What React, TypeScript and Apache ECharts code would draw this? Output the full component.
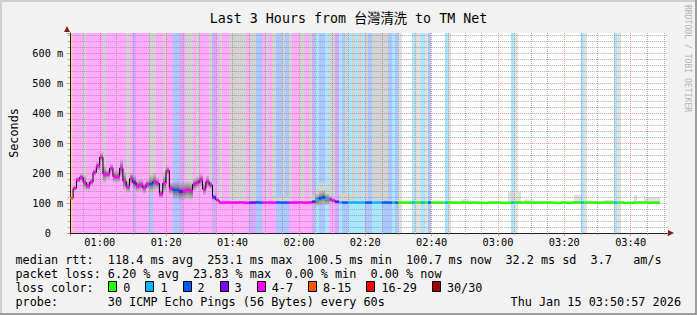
import React, { useEffect, useRef } from 'react';
import * as echarts from 'echarts';

const TITLE = 'Last 3 Hours from 台灣清洗 to TM Net';
const Y_NAME = 'Seconds';
const START_MIN = 50.95; // 00:50:57 as minutes of the day
const SPAN_MIN = 180;
const Y_MAX = 666.67;

// median rtt per minute (ms)
const median: (number | null)[] = [
  116, 149, 177, 186, 168, 157, 170, 202, 223, 253,
  196, 196, 216, 188, 188, 216, 173, 154, 181, 168,
  157, 160, 151, 162, 163, 171, 166, 130, 166, 208,
  149, 143, 143, 138, 140, 143, 140, 162, 168, 177,
  146, 171, 160, 119, 110, 101.5, 101.5, 102, 101.5, 101.5,
  101.5, 102, 101.5, 100.5, 101.5, 101.5, 102, 101.5, 101.5, 101.5,
  101.5, 101.5, 102, 101.5, 101.5, 101.5, 101.5, 101.5, 101.5, 102,
  101.5, 101.5, 102, 104, 110, 116, 119, 113, 112, 108,
  104, 102, 101.5, 101.5, 101.5, 102, 101.5, 101.5, 101.5, 101.5,
  101.5, 101.5, 101.5, 101.5, 101.5, 102, 101.5, 101.5, 101.5, 101.5,
  101.5, 101.5, 101.5, 101.5, 101.5, 101.5, 101.5, 101.5, 101.5, 101.5,
  101.5, 101.5, 101.5, 101.5, 101.5, 101.5, 101.5, 101.5, 101.5, 101.5,
  100.5, 101.5, 101.5, 100.5, 100.5, 100.5, 101.5, 101.5, 101.5, 101.5,
  100.5, 100.5, 100.5, 101.5, 101.5, 101.5, 101.5, 101.5, 101.5, 100.5,
  101.5, 101.5, 101.5, 101.5, 101.5, 101.5, 100.5, 100.5, 101.5, 101.5,
  100.5, 101.5, 101.5, 101.5, 101.5, 101.5, 101.5, 101.5, 101.5, 100.5,
  101.5, 101.5, 101.5, 101.5, 101.5, 101.5, 101.5, 100.5, 100.5, 100.5,
  101.5, 101.5, 101.5, 101.5, 100.5, 101.5, 101.5, 100.7, null, null,
];

// lost pings (of 30) per minute
const lost: (number | null)[] = [
  8, 5, 6, 5, 5, 4, 5, 6, 5, 4,
  5, 5, 4, 6, 5, 5, 4, 5, 4, 3,
  5, 6, 5, 4, 2, 5, 4, 5, 6, 5,
  4, 2, 2, 3, 5, 4, 5, 4, 5, 6,
  5, 4, 5, 3, 4, 4, 4, 5, 4, 4,
  5, 4, 5, 4, 3, 3, 2, 2, 4, 4,
  5, 4, 2, 2, 2, 2, 4, 5, 4, 4,
  5, 4, 4, 3, 1, 2, 2, 1, 4, 4,
  3, 1, 2, 2, 1, 1, 1, 1, 1, 2,
  2, 1, 1, 1, 2, 2, 2, 1, 2, 0,
  0, 0, 0, 1, 0, 0, 1, 0, 2, 0,
  0, 0, 0, 1, 0, 0, 0, 0, 0, 0,
  0, 0, 0, 0, 0, 0, 0, 0, 0, 0,
  0, 0, 0, 1, 0, 0, 0, 0, 0, 0,
  0, 0, 0, 0, 0, 0, 0, 0, 0, 0,
  0, 0, 0, 0, 1, 0, 0, 0, 0, 0,
  0, 0, 0, 0, 1, 0, 0, 0, 0, 0,
  0, 0, 0, 0, 0, 0, 0, 0, null, null,
];

// half height of the dense smoke around the median (ms)
const spread: number[] = [
  5, 8, 10, 12, 25, 15, 12, 12, 15, 15,
  30, 15, 15, 20, 20, 30, 30, 20, 20, 25,
  20, 20, 20, 15, 30, 30, 20, 15, 30, 15,
  20, 30, 30, 30, 30, 30, 30, 20, 20, 20,
  20, 20, 15, 10, 6, 3, 3, 3, 3, 3,
  3, 3, 3, 3, 3, 3, 3, 3, 3, 3,
  3, 3, 3, 3, 3, 3, 3, 3, 3, 3,
  3, 3, 4, 8, 20, 25, 25, 20, 12, 8,
  5, 3, 3, 3, 3, 3, 3, 3, 3, 3,
  3, 3, 3, 3, 3, 3, 3, 3, 3, 3,
  0, 0, 0, 0, 0, 0, 0, 0, 0, 0,
  0, 0, 0, 0, 0, 0, 0, 0, 0, 0,
  0, 0, 0, 0, 0, 0, 0, 0, 0, 0,
  0, 0, 0, 0, 6, 6, 0, 0, 0, 0,
  0, 0, 0, 0, 0, 0, 0, 0, 0, 0,
  0, 0, 5, 5, 0, 0, 0, 0, 0, 0,
  0, 0, 0, 0, 0, 0, 0, 0, 0, 0,
  0, 0, 0, 0, 0, 0, 0, 0, 0, 0,
];

// light smoke range (ms); 1000 = beyond the top of the graph
const smokeLo: (number | null)[] = [
  null, null, null, null, 143, null, null, null, null, null,
  166, null, null, null, null, null, null, 134, null, null,
  null, null, null, null, 133, 141, null, null, 136, null,
  null, null, null, null, null, 113, 110, null, 148, null,
  null, null, 145, null, null, 101, null, null, 101, 101,
  101, 101, 101, null, 101, 101, null, null, null, 101,
  null, 101, 101, 101, 101, 101, 101, null, null, 101,
  101, null, 102, 99, 95, 100, 100, 100, 100, 100,
  null, 102, 101, 101, 101, 101, null, 101, null, 101,
  null, 101, 101, 101, 101, 101, 101, 101, 101, 0,
  null, null, 101, null, 0, 0, null, 0, null, null,
  null, null, null, null, 0, null, null, null, 101, 101,
  101, null, null, null, null, null, null, null, null, null,
  null, null, 101, 101, 0, 101, null, 101, 101, 101,
  null, null, null, null, null, null, null, null, null, null,
  null, null, 101, 101, null, 0, null, null, 101, null,
  null, 101, 101, 101, null, 0, null, null, null, null,
  101, null, null, 101, 101, 101, 101, 101, null, null,
];
const smokeHi: (number | null)[] = [
  null, null, null, null, 1000, null, null, null, null, null,
  1000, null, null, null, null, null, null, 1000, null, null,
  null, null, null, null, 1000, 1000, null, null, 1000, null,
  null, null, null, null, null, 1000, 1000, null, 1000, null,
  null, null, 1000, null, null, 1000, null, null, 1000, 1000,
  1000, 1000, 1000, null, 1000, 1000, null, null, null, 1000,
  null, 1000, 121, 121, 1000, 121, 1000, null, null, 1000,
  1000, null, 1000, 125, 150, 167, 167, 150, 1000, 1000,
  null, 132, 132, 1000, 125, 1000, null, 1000, null, 1000,
  null, 1000, 1000, 1000, 1000, 1000, 110, 110, 110, 1000,
  null, null, 105, null, 1000, 1000, null, 1000, null, null,
  null, null, null, null, 1000, null, null, null, 112, 112,
  112, null, null, null, null, null, null, null, null, null,
  null, null, 138, 138, 1000, 138, null, 112, 112, 112,
  null, null, null, null, null, null, null, null, null, null,
  null, null, 127, 127, null, 1000, null, null, 106, null,
  null, 110, 110, 110, null, 1000, null, null, null, null,
  127, null, null, 119, 119, 119, 119, 119, null, null,
];

const statNames = ['avg', 'max', 'min', 'now', 'sd'];
const rttValues = ['118.4', '253.1', '100.5', '100.7', '32.2'];
const rttAmS = '3.7';
const lossValues = ['6.20', '23.83', '0.00', '0.00'];
const lossLabels = ['0', '1', '2', '3', '4-7', '8-15', '16-29', '30/30'];
const lossColors = ['#26ff00', '#00b8ff', '#0059ff', '#7e00ff', '#ff00ff', '#ff5500', '#ff0000', '#a10000'];
const lossBg = ['', '#aae7ff', '#aac8ff', '#d4aaff', '#ffaaff', '#ffc6aa', '#ffaaaa', '#dcaaaa'];
const probeText = '30 ICMP Echo Pings (56 Bytes) every 60s';
const dateText = 'Thu Jan 15 03:50:57 2026';
const watermark = 'RRDTOOL / TOBI OETIKER';

const MONO = "'DejaVu Sans Mono', 'Noto Sans CJK TC', monospace";
const CW = 7.1;
const X0 = 15.5;
const GRID = 'rgba(143,143,143,0.75)';
const MGRID = 'rgba(222,79,79,0.6)';

function lossClass(n: any): number {
  if (n == null || isNaN(n) || n < 0) return -1;
  if (n <= 3) return n;
  if (n <= 7) return 4;
  if (n <= 15) return 5;
  if (n <= 29) return 6;
  return 7;
}

function pad(n: number) {
  return (n < 10 ? '0' : '') + n;
}

function segments(line: string, y: number): any[] {
  const out: any[] = [];
  const re = /\S+(?: \S+)*/g;
  let m: RegExpExecArray | null;
  while ((m = re.exec(line))) {
    out.push({
      type: 'text', x: X0 + m.index * CW, y, silent: true,
      style: { text: m[0], fontFamily: MONO, fontSize: 11.8, fill: '#000', verticalAlign: 'middle' },
    });
  }
  return out;
}

function colX(api: any, t: number) {
  const a = api.coord([t, 0]);
  const b = api.coord([t + 1, 0]);
  return [Math.round(a[0]), Math.round(b[0])];
}

function buildOption() {
  const bandData = lost.map((n, i) => [START_MIN + i, n == null ? -1 : n]);
  const lightData = smokeLo
    .map((lo, i) => [START_MIN + i, lo, smokeHi[i], lost[i] == null ? 0 : lost[i]])
    .filter((d) => d[1] != null && d[2] != null);
  const darkData = median
    .map((m, i) => [START_MIN + i, m, spread[i]])
    .filter((d) => d[1] != null && (d[2] as number) > 0);
  const markData = median
    .map((m, i) => [START_MIN + i, m, lost[i]])
    .filter((d) => d[1] != null);
  const lineData = median
    .map((m, i) => [START_MIN + i + 0.5, m])
    .filter((d) => d[1] != null);

  const row1 = 'median rtt:  ' + rttValues.map((v, i) => `${v} ms ${statNames[i]}`).join('  ') + '  ' + rttAmS + '   am/s';
  const row2 = 'packet loss: ' + lossValues.map((v, i) => `${v} % ${statNames[i]}`).join('  ');
  const row4 = 'probe:       ' + probeText;

  const legendEls: any[] = [];
  let bx = 108.3;
  lossLabels.forEach((lab, i) => {
    const x = Math.round(bx) + 0.5;
    legendEls.push({
      type: 'rect', silent: true,
      shape: { x, y: 281.5, width: 8, height: 10 },
      style: { fill: lossColors[i], stroke: '#000', lineWidth: 1 },
    });
    legendEls.push({
      type: 'text', x: bx + 15, y: 287.5, silent: true,
      style: { text: lab, fontFamily: MONO, fontSize: 11.8, fill: '#000', verticalAlign: 'middle' },
    });
    bx += 30 + lab.length * CW;
  });

  const graphicEls: any[] = [
    { type: 'rect', silent: true, shape: { x: 0, y: 0, width: 697, height: 2 }, style: { fill: '#cfcfcf' } },
    { type: 'rect', silent: true, shape: { x: 0, y: 0, width: 2, height: 315 }, style: { fill: '#cfcfcf' } },
    { type: 'rect', silent: true, shape: { x: 0, y: 313, width: 697, height: 2 }, style: { fill: '#9e9e9e' } },
    { type: 'rect', silent: true, shape: { x: 695, y: 0, width: 2, height: 315 }, style: { fill: '#9e9e9e' } },
    { type: 'polygon', silent: true, z: 10, shape: { points: [[668, 230], [674, 233], [668, 236]] }, style: { fill: '#801f1f' } },
    { type: 'polygon', silent: true, z: 10, shape: { points: [[64, 32], [67, 26], [70, 32]] }, style: { fill: '#801f1f' } },
    {
      type: 'text', x: 687.5, y: 5, rotation: -Math.PI / 2, silent: true,
      style: { text: watermark, fontFamily: MONO, fontSize: 8.1, fill: '#b4b4b4', align: 'left', verticalAlign: 'middle' },
    },
    ...segments(row1, 259.5),
    ...segments(row2, 273.5),
    ...segments('loss color:', 287.5),
    ...legendEls,
    ...segments(row4, 301.5),
    {
      type: 'text', x: 681, y: 301.5, silent: true,
      style: { text: dateText, fontFamily: MONO, fontSize: 11.8, fill: '#000', align: 'right', verticalAlign: 'middle' },
    },
  ];

  return {
    animation: false,
    backgroundColor: '#f2f2f2',
    title: {
      text: TITLE, left: 'center', top: 7,
      textStyle: { fontFamily: MONO, fontSize: 13.3, fontWeight: 'normal', color: '#000' },
    },
    grid: { left: 67, top: 33, width: 600, height: 200, show: true, backgroundColor: '#ffffff', borderWidth: 0 },
    xAxis: {
      type: 'value', min: START_MIN, max: START_MIN + SPAN_MIN, splitNumber: 9, minInterval: 20, maxInterval: 20, z: 3,
      axisLine: { show: true, lineStyle: { color: '#1f1f1f', width: 1 } },
      axisTick: { show: true, length: 3, lineStyle: { color: MGRID } },
      minorTick: { show: true, splitNumber: 4, length: 2, lineStyle: { color: GRID } },
      axisLabel: {
        showMinLabel: false, showMaxLabel: false, margin: 4,
        fontFamily: MONO, fontSize: 10.3, color: '#000',
        formatter: (v: number) => {
          const mins = Math.round(v);
          return `${pad(Math.floor(mins / 60))}:${pad(mins % 60)}`;
        },
      },
      splitLine: { show: true, showMinLine: false, showMaxLine: false, lineStyle: { color: MGRID, type: [1, 1], width: 1 } },
      minorSplitLine: { show: true, lineStyle: { color: GRID, type: [1, 1], width: 1 } },
    },
    yAxis: {
      type: 'value', min: 0, max: Y_MAX, interval: 100, z: 3,
      name: Y_NAME, nameLocation: 'middle', nameGap: 50, nameRotate: 90,
      nameTextStyle: { fontFamily: MONO, fontSize: 11.8, color: '#000' },
      axisLine: { show: true, lineStyle: { color: '#1f1f1f', width: 1 } },
      axisTick: { show: true, length: 3, lineStyle: { color: MGRID } },
      minorTick: { show: true, splitNumber: 5, length: 2, lineStyle: { color: GRID } },
      axisLabel: {
        showMaxLabel: false, align: 'center', margin: 22,
        fontFamily: MONO, fontSize: 10.3, color: '#000',
        formatter: (v: number) => (v === 0 ? '0' : `${Math.round(v)} m`),
      },
      splitLine: { show: true, showMinLine: false, showMaxLine: false, lineStyle: { color: MGRID, type: [1, 1], width: 1 } },
      minorSplitLine: { show: true, lineStyle: { color: GRID, type: [1, 1], width: 1 } },
    },
    series: [
      {
        type: 'custom', name: 'loss', z: 1, silent: true, data: bandData,
        renderItem: (params: any, api: any) => {
          const t = api.value(0);
          const c = lossClass(api.value(1));
          if (c < 1) return { type: 'group', children: [] };
          const [x0, x1] = colX(api, t);
          const yb = api.coord([t, 0])[1];
          const yt = api.coord([t, Y_MAX])[1];
          return { type: 'rect', shape: { x: x0, y: yt, width: x1 - x0, height: yb - yt }, style: { fill: lossBg[c] } };
        },
      },
      {
        type: 'custom', name: 'smoke', z: 1, silent: true, data: lightData,
        renderItem: (params: any, api: any) => {
          const t = api.value(0);
          const lo = api.value(1);
          const hi = Math.min(api.value(2), Y_MAX);
          const n = api.value(3);
          const [x0, x1] = colX(api, t);
          const yb = api.coord([t, lo])[1];
          const yt = api.coord([t, hi])[1];
          return {
            type: 'rect', shape: { x: x0, y: yt, width: x1 - x0, height: yb - yt },
            style: { fill: n > 0 ? '#d3d3d3' : '#e0e0e0' },
          };
        },
      },
      {
        type: 'custom', name: 'dense smoke', z: 1, silent: true, data: darkData,
        renderItem: (params: any, api: any) => {
          const t = api.value(0);
          const m = api.value(1);
          const s = api.value(2);
          const [x0, x1] = colX(api, t);
          const yb = api.coord([t, m - s])[1];
          const yt = api.coord([t, m + s])[1];
          return {
            type: 'rect', shape: { x: x0, y: yt, width: x1 - x0, height: yb - yt },
            style: {
              fill: new echarts.graphic.LinearGradient(0, 0, 0, 1, [
                { offset: 0, color: 'rgba(120,120,120,0.12)' },
                { offset: 0.5, color: 'rgba(30,30,30,0.65)' },
                { offset: 1, color: 'rgba(120,120,120,0.12)' },
              ]),
            },
          };
        },
      },
      {
        type: 'line', name: 'median', z: 4, silent: true, data: lineData, step: 'middle',
        showSymbol: false, symbol: 'none',
        lineStyle: { color: '#000', width: 1 },
      },
      {
        type: 'custom', name: 'median loss', z: 5, silent: true, data: markData,
        renderItem: (params: any, api: any) => {
          const t = api.value(0);
          const m = api.value(1);
          const c = Math.max(0, lossClass(api.value(2)));
          const [x0, x1] = colX(api, t);
          const y = api.coord([t, m])[1];
          return { type: 'rect', shape: { x: x0, y: y - 1.25, width: x1 - x0, height: 2.5 }, style: { fill: lossColors[c] } };
        },
      },
    ],
    graphic: { elements: graphicEls },
  };
}

export default function App() {
  const ref = useRef<HTMLDivElement>(null);
  useEffect(() => {
    if (!ref.current) return;
    const chart = echarts.init(ref.current, null, { renderer: 'svg' });
    chart.setOption(buildOption() as any);
    return () => chart.dispose();
  }, []);
  return <div ref={ref} style={{ position: 'fixed', left: 0, top: 0, width: 697, height: 315 }} />;
}
